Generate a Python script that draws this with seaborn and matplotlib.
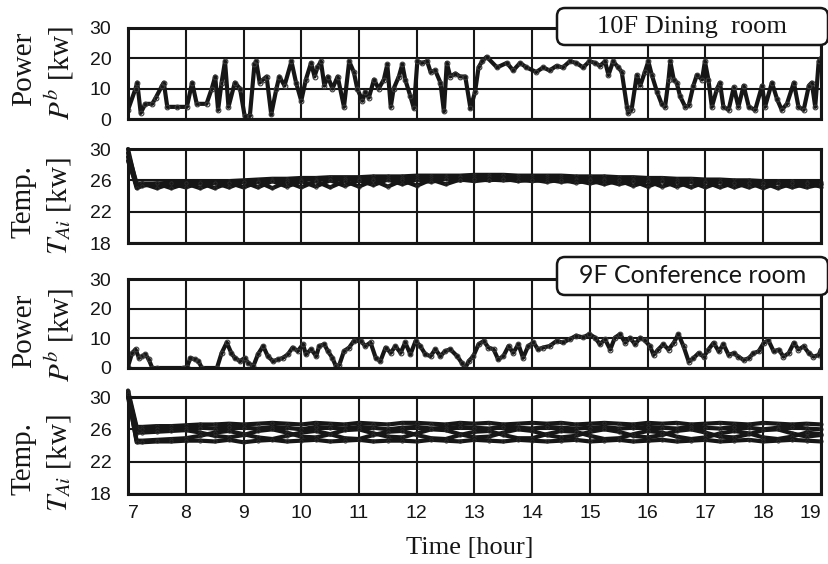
import numpy as np
import pandas as pd
import matplotlib
matplotlib.use("Agg")
import matplotlib.pyplot as plt
from matplotlib.patches import FancyBboxPatch
from matplotlib.transforms import IdentityTransform
import seaborn as sns

# ---------------------------------------------------------------- data
HOUR_TICKS = [7, 8, 9, 10, 11, 12, 13, 14, 15, 16, 17, 18, 19]
POWER_TICKS = [0, 10, 20, 30]
TEMP_TICKS = [18, 22, 26, 30]

# 10F dining room: electric power P^b [kW]
dining_hours = [
    7.00, 7.13, 7.16, 7.22, 7.30, 7.42, 7.48, 7.59, 7.62, 7.68, 7.85, 8.02, 8.11, 8.19,
    8.36, 8.45, 8.51, 8.56, 8.62, 8.68, 8.74, 8.85, 8.94, 9.02, 9.11, 9.19, 9.22, 9.28,
    9.34, 9.40, 9.48, 9.57, 9.62, 9.71, 9.83, 9.91, 10.00, 10.08, 10.17, 10.23, 10.28,
    10.34, 10.40, 10.46, 10.54, 10.63, 10.74, 10.83, 10.91, 10.97, 11.06, 11.11, 11.17,
    11.26, 11.34, 11.43, 11.49, 11.55, 11.60, 11.69, 11.75, 11.80, 11.89, 11.95, 12.01,
    12.09, 12.18, 12.24, 12.32, 12.41, 12.47, 12.52, 12.58, 12.67, 12.75, 12.84, 12.93,
    13.01, 13.07, 13.13, 13.21, 13.39, 13.56, 13.67, 13.79, 13.90, 14.07, 14.19, 14.30,
    14.42, 14.53, 14.65, 14.76, 14.88, 14.99, 15.09, 15.17, 15.26, 15.32, 15.40, 15.49,
    15.55, 15.64, 15.66, 15.72, 15.81, 15.87, 15.95, 16.01, 16.07, 16.16, 16.24, 16.30,
    16.36, 16.39, 16.45, 16.50, 16.56, 16.65, 16.71, 16.79, 16.85, 16.94, 16.99, 17.05,
    17.11, 17.20, 17.25, 17.31, 17.40, 17.49, 17.57, 17.66, 17.75, 17.86, 17.98, 18.03,
    18.15, 18.24, 18.32, 18.41, 18.53, 18.61, 18.70, 18.79, 18.84, 18.90, 18.96, 19.00,
]
dining_power = [
    3, 10, 12, 2, 5, 5, 7, 11, 12, 4, 4, 4, 12, 5,
    5, 10, 14, 3, 12, 19, 4, 12, 10, 1, 1, 18, 19, 12,
    13, 14, 1.5, 10, 14, 11, 19, 12, 6, 13, 18.5, 14, 17,
    19, 11, 14, 10, 14, 4, 19, 15.5, 10, 6, 9, 7,
    13, 10, 13, 18, 4, 10, 14, 18, 13, 7.5, 3.5, 19,
    18.5, 19, 15.5, 16, 12, 2.5, 18.5, 14, 15, 14, 14, 3.5,
    9, 17, 19, 20.5, 17, 18.5, 16, 18.5, 17, 15.5, 17, 16,
    17.5, 17, 19, 18.5, 17, 19, 18.5, 17.5, 19, 14.5, 19, 17,
    15.5, 4, 2, 3, 14.5, 11, 15.5, 19, 14.5, 9, 5, 4,
    13, 19, 13, 12, 7.5, 4, 4.5, 11, 14.5, 13, 19, 13,
    4, 10, 12, 4, 3, 10.5, 4, 11, 4, 3, 11, 4,
    12, 6.5, 3, 5, 12, 4, 3, 11, 12, 4, 19, 20,
]

# 9F conference room: electric power P^b [kW]
conf_hours = [
    7.00, 7.07, 7.13, 7.19, 7.25, 7.30, 7.36, 7.42, 7.50, 7.96, 8.02, 8.08, 8.16, 8.22,
    8.28, 8.54, 8.62, 8.71, 8.79, 8.85, 8.94, 9.02, 9.08, 9.17, 9.25, 9.34, 9.42, 9.51,
    9.60, 9.68, 9.77, 9.85, 9.94, 10.03, 10.08, 10.17, 10.26, 10.31, 10.40, 10.46, 10.54,
    10.60, 10.66, 10.74, 10.83, 10.91, 11.03, 11.11, 11.20, 11.29, 11.37, 11.46, 11.55,
    11.63, 11.72, 11.80, 11.89, 11.98, 12.06, 12.15, 12.24, 12.32, 12.41, 12.49, 12.58,
    12.70, 12.78, 12.84, 12.90, 12.98, 13.07, 13.16, 13.24, 13.33, 13.41, 13.50, 13.59,
    13.67, 13.76, 13.84, 13.93, 14.02, 14.10, 14.19, 14.30, 14.42, 14.53, 14.65, 14.76,
    14.88, 14.99, 15.09, 15.17, 15.26, 15.35, 15.43, 15.52, 15.61, 15.69, 15.78, 15.87,
    15.95, 16.04, 16.10, 16.18, 16.27, 16.36, 16.45, 16.53, 16.62, 16.71, 16.79, 16.88,
    16.97, 17.05, 17.14, 17.23, 17.31, 17.40, 17.49, 17.57, 17.66, 17.75, 17.83, 17.92,
    18.01, 18.09, 18.18, 18.27, 18.35, 18.44, 18.53, 18.61, 18.70, 18.79, 18.87, 18.96,
    19.00,
]
conf_power = [
    0.5, 5, 6.3, 3.4, 4, 4.6, 2.9, 0, 0, 0, 0.3, 3.4, 2.9, 2.3,
    0, 0, 5, 8.6, 5, 3.4, 2.3, 3.4, 1.7, 0.6, 4.6, 7.4, 4, 2.3,
    2.9, 3.4, 4.6, 6.9, 5.7, 8, 4.6, 6.3, 4, 7.4, 8, 5.7, 3.4,
    0.6, 1.1, 5.7, 6.9, 9.1, 9.1, 7.4, 8.6, 3.4, 2.3, 6.9, 5.1,
    7.4, 5.1, 8.6, 4.6, 9.1, 7.4, 4.6, 4, 6.3, 4, 5.7, 6.3,
    4, 1.7, 0, 2.3, 4, 8, 9.1, 6.9, 6.3, 2.9, 4, 7.4,
    5.1, 8, 3.4, 7.4, 8.6, 6.3, 6.9, 7.4, 9.1, 8.6, 9.7, 10.9,
    10.3, 11.4, 10.2, 8, 9.7, 6.2, 10.2, 11.4, 8.5, 10.2, 8, 10.2,
    9.3, 7.3, 4.4, 6.2, 8, 6.2, 8.5, 11.4, 7.3, 2.1, 3.3, 5,
    3.8, 6.2, 8.5, 5.6, 8, 4.4, 5, 3.8, 2.7, 3.3, 5, 5.6,
    8.5, 9.3, 5.6, 6.2, 3.8, 5, 8.5, 6.2, 7.3, 5, 3.8, 4.4,
    6.2,
]

# Room air temperatures T_Ai, sampled every quarter hour after start-up
temp_hours = [7.0, 7.15] + list(np.round(np.arange(7.25, 19.01, 0.25), 2))

dining_temp = {
    "A": [29.5, 25.6, 25.6, 25.6, 25.7, 25.7, 25.8, 25.8, 25.9, 26.0, 26.1, 26.2, 26.2,
          26.3, 26.3, 26.4, 26.4, 26.4, 26.5, 26.5, 26.5, 26.6, 26.6, 26.6, 26.6, 26.7,
          26.7, 26.7, 26.6, 26.6, 26.6, 26.6, 26.5, 26.5, 26.5, 26.4, 26.4, 26.3, 26.3,
          26.2, 26.2, 26.1, 26.1, 26.0, 26.0, 25.9, 25.9, 25.9, 25.8, 25.8],
    "B": [28.5, 25.3, 25.4, 25.5, 25.5, 25.6, 25.6, 25.7, 25.8, 25.8, 25.9, 26.0, 26.0,
          26.1, 26.1, 26.1, 26.2, 26.2, 26.2, 26.3, 26.3, 26.3, 26.3, 26.4, 26.4, 26.4,
          26.4, 26.3, 26.3, 26.3, 26.3, 26.3, 26.2, 26.2, 26.2, 26.1, 26.1, 26.0, 26.0,
          26.0, 25.9, 25.9, 25.8, 25.8, 25.8, 25.7, 25.7, 25.6, 25.6, 25.5],
    "C": [30.0, 25.2, 25.6, 25.0, 25.6, 25.1, 25.7, 25.0, 25.7, 25.1, 25.8, 25.0, 25.8,
          25.1, 25.9, 25.1, 25.9, 25.2, 26.0, 25.2, 26.0, 25.3, 26.1, 25.5, 26.1, 25.9,
          26.1, 26.0, 26.1, 25.9, 26.1, 25.8, 26.0, 25.6, 26.0, 25.5, 25.9, 25.2, 25.9,
          25.2, 25.8, 25.1, 25.8, 25.1, 25.7, 25.0, 25.7, 25.1, 25.6, 25.2],
    "D": [29.0, 25.0, 25.3, 25.6, 25.0, 25.6, 25.0, 25.7, 25.1, 25.8, 25.1, 25.9, 25.2,
          25.9, 25.2, 26.0, 25.3, 26.0, 25.4, 26.1, 25.5, 26.1, 25.8, 26.2, 26.0, 26.2,
          26.0, 26.2, 25.9, 26.1, 25.8, 26.1, 25.7, 26.0, 25.5, 26.0, 25.3, 25.9, 25.2,
          25.8, 25.1, 25.8, 25.1, 25.7, 25.1, 25.7, 25.0, 25.6, 25.1, 25.5],
}

conf_temp = {
    "E": [30.8, 26.3, 26.3, 26.4, 26.4, 26.5, 26.6, 26.6, 26.7, 26.6, 26.7, 26.8, 26.7,
          26.6, 26.8, 26.7, 26.6, 26.8, 26.7, 26.6, 26.8, 26.8, 26.7, 26.6, 26.8, 26.7,
          26.8, 26.6, 26.7, 26.8, 26.7, 26.8, 26.6, 26.7, 26.8, 26.7, 26.6, 26.8, 26.7,
          26.8, 26.6, 26.7, 26.8, 26.7, 26.6, 26.8, 26.7, 26.6, 26.7, 26.6],
    "F": [30.5, 26.0, 26.0, 26.1, 26.1, 26.2, 26.2, 26.1, 26.3, 26.2, 26.1, 26.3, 26.2,
          26.0, 26.3, 26.2, 26.1, 26.3, 26.2, 26.0, 26.2, 26.3, 26.1, 26.2, 26.3, 26.2,
          26.1, 26.3, 26.2, 26.1, 26.3, 26.2, 26.1, 26.2, 26.3, 26.1, 26.2, 26.3, 26.2,
          26.1, 26.3, 26.2, 26.1, 26.3, 26.2, 26.0, 26.2, 26.3, 26.1, 26.0],
    "G": [30.2, 25.6, 25.6, 25.7, 25.8, 25.9, 25.6, 25.2, 25.0, 25.3, 25.8, 26.0, 25.6,
          25.1, 25.0, 25.4, 25.9, 26.0, 25.5, 25.1, 25.0, 25.5, 26.0, 25.9, 25.4, 25.0,
          25.1, 25.6, 26.0, 25.8, 25.3, 25.0, 25.2, 25.7, 26.0, 25.7, 25.2, 25.0, 25.3,
          25.8, 26.0, 25.6, 25.1, 25.0, 25.4, 25.9, 26.0, 25.5, 25.1, 25.3],
    "H": [30.0, 24.6, 24.6, 24.7, 24.8, 24.9, 25.2, 25.6, 25.8, 25.4, 25.0, 24.8, 25.2,
          25.6, 25.8, 25.4, 24.9, 24.8, 25.3, 25.7, 25.8, 25.3, 24.9, 24.8, 25.3, 25.7,
          25.8, 25.3, 24.9, 24.9, 25.4, 25.8, 25.7, 25.2, 24.8, 24.9, 25.4, 25.8, 25.6,
          25.1, 24.8, 25.0, 25.5, 25.8, 25.5, 25.0, 24.8, 25.1, 25.6, 25.4],
    "I": [30.4, 24.4, 24.4, 24.5, 24.5, 24.6, 24.6, 24.5, 24.7, 24.4, 24.6, 24.7, 24.5,
          24.6, 24.7, 24.5, 24.6, 24.7, 24.5, 24.6, 24.6, 24.5, 24.7, 24.6, 24.5, 24.7,
          24.6, 24.5, 24.7, 24.6, 24.5, 24.6, 24.7, 24.5, 24.6, 24.7, 24.5, 24.6, 24.7,
          24.5, 24.6, 24.7, 24.5, 24.6, 24.7, 24.5, 24.6, 24.7, 24.6, 24.5],
}


def long_temp(table):
    frames = [pd.DataFrame({"hour": temp_hours, "temp": vals, "run": key})
              for key, vals in table.items()]
    return pd.concat(frames, ignore_index=True)


# ---------------------------------------------------------------- style
sns.set_style("white")
plt.rcParams["font.family"] = ["Liberation Sans", "DejaVu Sans"]
plt.rcParams["mathtext.fontset"] = "stix"

W, H = 829, 564
fig = plt.figure(figsize=(W / 100, H / 100), dpi=100)
SERIF = ["Liberation Serif", "DejaVu Serif"]
INK = "#161616"


def add_panel(top, bottom, left=128, right=821):
    return fig.add_axes([left / W, 1 - bottom / H, (right - left) / W, (bottom - top) / H])


def style_axes(ax, yticks, show_x):
    ax.set_xlim(HOUR_TICKS[0], HOUR_TICKS[-1])
    ax.set_ylim(yticks[0], yticks[-1])
    ax.set_xticks(HOUR_TICKS)
    ax.set_yticks(yticks)
    ax.grid(True, color=INK, lw=1.5)
    ax.set_axisbelow(True)
    for s in ax.spines.values():
        s.set_color(INK)
        s.set_linewidth(2.2)
    ax.tick_params(axis="y", length=0, labelsize=14, pad=12, colors=INK)
    ax.tick_params(axis="x", length=0, labelsize=14, pad=8, colors=INK,
                   labelbottom=show_x)
    ax.set_xlabel("")
    ax.set_ylabel("")


def power_line(ax, hours, values):
    sns.lineplot(x=hours, y=values, ax=ax, color=INK, lw=3.0, marker="o",
                 markersize=3.4, markerfacecolor="none", markeredgecolor="#3a3a3a",
                 markeredgewidth=0.8, sort=False)


def temp_lines(ax, table):
    df = long_temp(table)
    sns.lineplot(data=df, x="hour", y="temp", units="run", estimator=None, ax=ax,
                 color=INK, lw=3.0, marker="o", markersize=2.4,
                 markerfacecolor="none", markeredgecolor="#2e2e2e",
                 markeredgewidth=0.6, sort=False, clip_on=False)


ax1 = add_panel(28, 119)
power_line(ax1, dining_hours, dining_power)
style_axes(ax1, POWER_TICKS, False)

ax2 = add_panel(149, 243)
temp_lines(ax2, dining_temp)
style_axes(ax2, TEMP_TICKS, False)

ax3 = add_panel(279, 368)
power_line(ax3, conf_hours, conf_power)
style_axes(ax3, POWER_TICKS, False)

ax4 = add_panel(397, 494)
temp_lines(ax4, conf_temp)
style_axes(ax4, TEMP_TICKS, True)

# keep the end hour labels inside the frame
xlabels = ax4.get_xticklabels()
xlabels[0].set_horizontalalignment("left")
xlabels[-1].set_horizontalalignment("right")


def ftext(x, y, s, **kw):
    fig.text(x / W, 1 - y / H, s, ha="center", va="center", color=INK, **kw)


# two-line axis titles
for cy, name, sym in [(69, "Power", "$P^b$ [kw]"), (202, "Temp.", "$T_{Ai}$ [kw]"),
                      (331, "Power", "$P^b$ [kw]"), (459, "Temp.", "$T_{Ai}$ [kw]")]:
    ftext(24, cy, name, rotation=90, fontsize=21, family=SERIF)
    ftext(59, cy + 4, sym, rotation=90, fontsize=21, family=SERIF)

ftext(470, 548, "Time [hour]", fontsize=19, family=SERIF)


def room_tag(top, bottom, label, family, size, left=557, right=828):
    box = FancyBboxPatch((left, H - bottom), right - left, bottom - top,
                         boxstyle="round,pad=0,rounding_size=8",
                         transform=IdentityTransform(), facecolor="white",
                         edgecolor=INK, lw=1.8, zorder=20, clip_on=False)
    fig.add_artist(box)
    fig.text((left + right) / 2 / W, 1 - (top + bottom) / 2 / H, label,
             ha="center", va="center", fontsize=size, family=family,
             color=INK, zorder=21)


room_tag(8, 45, "10F Dining  room", SERIF, 19)
room_tag(257, 295, "9F Conference room", ["Lato", "DejaVu Sans"], 18)

fig.savefig("out.png", dpi=100)
